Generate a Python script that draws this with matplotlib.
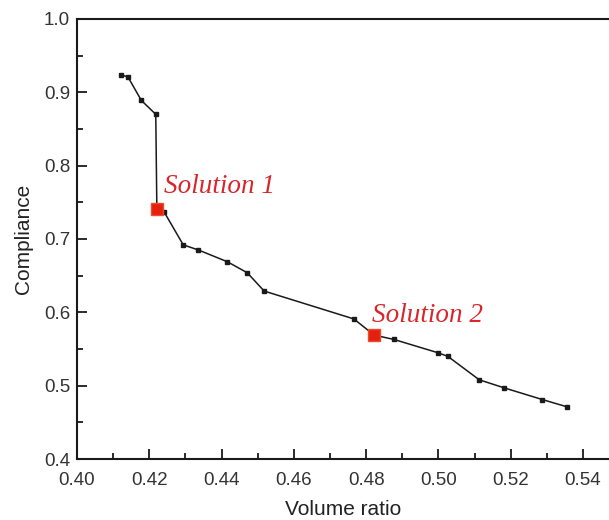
import matplotlib.pyplot as plt
from matplotlib.ticker import MultipleLocator, FormatStrFormatter

# front points (volume ratio, compliance)
vol = [0.4121, 0.4141, 0.4178, 0.4218, 0.4221, 0.4241, 0.4294, 0.4336, 0.4416, 0.4471,
       0.4518, 0.4766, 0.4822, 0.4877, 0.4998, 0.5026, 0.5113, 0.5182, 0.5288, 0.5357]
comp = [0.924, 0.921, 0.889, 0.870, 0.741, 0.737, 0.692, 0.685, 0.669, 0.654,
        0.629, 0.591, 0.569, 0.563, 0.545, 0.540, 0.508, 0.497, 0.481, 0.471]

# highlighted solutions
sol_vol = [0.4221, 0.4822]
sol_comp = [0.741, 0.569]
sol_names = ["Solution 1", "Solution 2"]

fig = plt.figure(figsize=(6.09, 5.2), dpi=100)
ax = fig.add_axes([0.1264, 0.1173, 0.8736, 0.8462])

ax.plot(vol, comp, color='#1a1a1a', linewidth=1.1, marker='s', markersize=3.5)
ax.plot(sol_vol, sol_comp, linestyle='none', marker='s', markersize=8,
        color='#e3210f', markeredgecolor='#f04a2a', zorder=5)

ax.text(0.4240, 0.771, sol_names[0], color='#d8262a', fontsize=19.5,
        family='Liberation Serif', style='italic', va='center', ha='left')
ax.text(0.4817, 0.596, sol_names[1], color='#d8262a', fontsize=19.5,
        family='Liberation Serif', style='italic', va='center', ha='left')

ax.set_xlim(0.40, 0.5472)
ax.set_ylim(0.4, 1.0)
ax.xaxis.set_major_locator(MultipleLocator(0.02))
ax.xaxis.set_minor_locator(MultipleLocator(0.01))
ax.yaxis.set_major_locator(MultipleLocator(0.1))
ax.yaxis.set_minor_locator(MultipleLocator(0.05))
ax.xaxis.set_major_formatter(FormatStrFormatter('%.2f'))
ax.yaxis.set_major_formatter(FormatStrFormatter('%.1f'))

ax.spines['right'].set_visible(False)
for s in ['left', 'bottom', 'top']:
    ax.spines[s].set_linewidth(1.5)
    ax.spines[s].set_color('#1a1a1a')

ax.tick_params(which='both', direction='in', top=False, right=False,
               width=1.3, color='#1a1a1a')
ax.tick_params(which='major', length=7, labelsize=13.5, labelcolor='#333333')
ax.tick_params(axis='x', which='major', pad=9)
ax.tick_params(axis='y', which='major', pad=5)
ax.tick_params(which='minor', length=4)
for lab in ax.get_xticklabels() + ax.get_yticklabels():
    lab.set_family('Liberation Sans')

ax.set_xlabel("Volume ratio", fontsize=15, family='Liberation Sans', color='#222222', labelpad=8)
ax.set_ylabel("Compliance", fontsize=15, family='Liberation Sans', color='#222222', labelpad=8)

fig.savefig('out.png', dpi=100)
